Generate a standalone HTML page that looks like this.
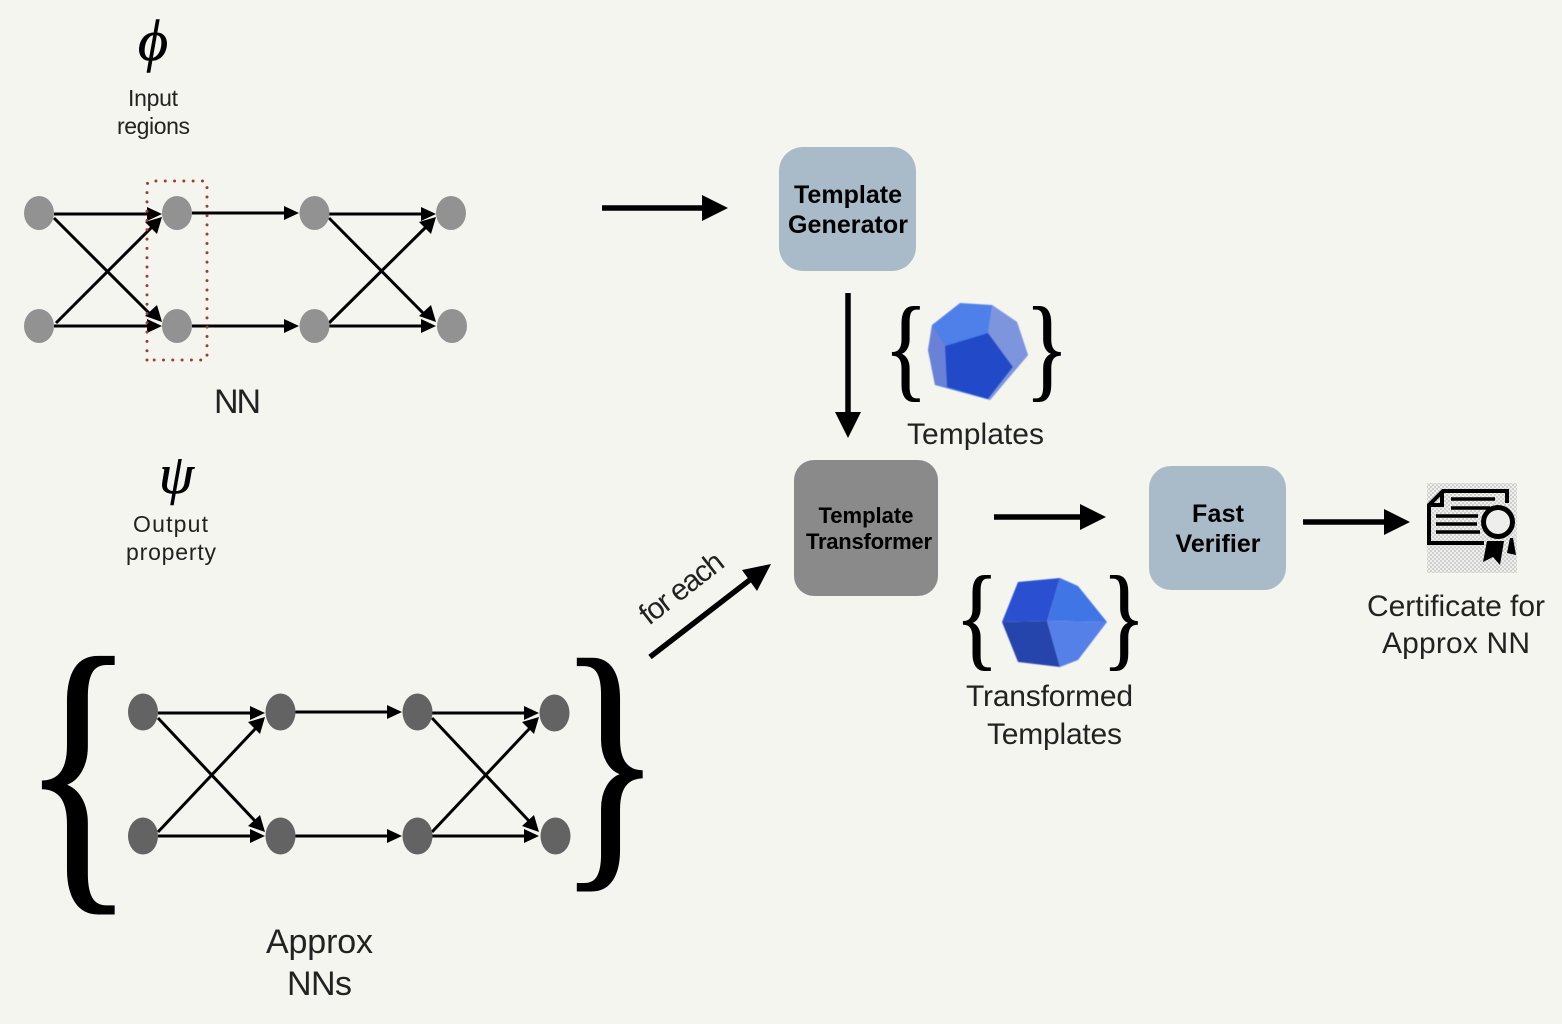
<!DOCTYPE html>
<html><head><meta charset="utf-8"><style>
html,body{margin:0;padding:0;background:#f5f5f0;width:1562px;height:1024px;overflow:hidden}
svg{display:block}
text{font-family:"Liberation Sans",sans-serif;fill:#222}
.s{font-family:"Liberation Serif",serif;fill:#000}
.b{font-weight:700;fill:#000;text-anchor:middle}
.l{stroke:#000;stroke-width:3;fill:none}
.t{stroke:#000;stroke-width:5.5;fill:none}
.g1{fill:#929292}.g2{fill:#636363}
</style></head><body>
<svg width="1562" height="1024" viewBox="0 0 1562 1024" xmlns="http://www.w3.org/2000/svg">
<defs>
<pattern id="ck" width="4" height="4" patternUnits="userSpaceOnUse"><rect width="4" height="4" fill="#efefed"/><rect width="2" height="2" fill="#cfcfcd"/><rect x="2" y="2" width="2" height="2" fill="#cfcfcd"/></pattern>
<filter id="bl" x="-5%" y="-5%" width="110%" height="110%"><feGaussianBlur stdDeviation="0.6"/></filter>
</defs>
<rect width="1562" height="1024" fill="#f5f5f0"/>

<text class="s" x="138" y="60" font-size="58" font-style="italic" stroke="#000" stroke-width=".6">ϕ</text>
<text x="128" y="106" font-size="23" textLength="50">Input</text>
<text x="117" y="134" font-size="23" textLength="73">regions</text>

<g>
<g class="l">
<path d="M54 214H148M54 326H148M54 218L152 316M56 323L153 226"/>
<path d="M192 213H285M192 326H285M329 214H422M329 326H422M329 218L426 316M329 323L427 226"/>
</g>
<path d="M162 214L147 207V221ZM162 326L147 319V333ZM162 322L157 305L145 316ZM162 217L145 222L157 234Z"/>
<path d="M299 213L284 206V220ZM299 326L284 319V333ZM436 214L421 207V221ZM436 326L421 319V333ZM436 322L431 305L419 316ZM436 217L419 222L431 234Z"/>
<ellipse class="g1" cx="39" cy="213" rx="15" ry="17"/><ellipse class="g1" cx="39" cy="326" rx="15" ry="17"/>
<ellipse class="g1" cx="177" cy="213" rx="15" ry="17"/><ellipse class="g1" cx="177" cy="326" rx="15" ry="17"/>
<ellipse class="g1" cx="314.500" cy="213" rx="15" ry="17"/><ellipse class="g1" cx="314.500" cy="326" rx="15" ry="17"/>
<ellipse class="g1" cx="451" cy="213" rx="15" ry="17"/><ellipse class="g1" cx="452" cy="326" rx="15" ry="17"/>
</g>
<path d="M147 360V186Q147 181 152 181H202Q207 181 207 186V355Q207 360 202 360H150" fill="none" stroke="#a03c30" stroke-width="3" stroke-linecap="round" stroke-dasharray="0 9.3"/>
<text x="214" y="413" font-size="34" textLength="47">NN</text>

<text class="s" x="159" y="493" font-size="56" font-style="italic" stroke="#000" stroke-width=".6">ψ</text>
<text x="133" y="532" font-size="23" textLength="75">Output</text>
<text x="126" y="560" font-size="23" textLength="90">property</text>

<text class="s" transform="translate(21 872) scale(.77 1)" font-size="310" stroke="#000" stroke-width="2">{</text>
<text class="s" transform="translate(558 853) scale(.77 1)" font-size="280" stroke="#000" stroke-width="2">}</text>

<g>
<g class="l">
<path d="M158 713H251M158 836H251M158 718L255 821M158 832L256 728"/>
<path d="M295 712H388M295 836H388M432 713H525M432 836H525M432 718L529 821M432 832L530 728"/>
</g>
<path d="M265 713L250 706V720ZM265 836L250 829V843ZM265 832L260 815L248 826ZM265 717L248 722L260 734Z"/>
<path d="M402 712L387 705V719ZM402 836L387 829V843ZM539 713L524 706V720ZM539 836L524 829V843ZM539 832L534 815L522 826ZM539 717L522 722L534 734Z"/>
<ellipse class="g2" cx="143" cy="712" rx="15" ry="18.500"/><ellipse class="g2" cx="143" cy="836" rx="15" ry="18.500"/>
<ellipse class="g2" cx="280.500" cy="712" rx="15" ry="18.500"/><ellipse class="g2" cx="280.500" cy="836" rx="15" ry="18.500"/>
<ellipse class="g2" cx="417.500" cy="712" rx="15" ry="18.500"/><ellipse class="g2" cx="417.500" cy="836" rx="15" ry="18.500"/>
<ellipse class="g2" cx="554.500" cy="713" rx="15" ry="18.500"/><ellipse class="g2" cx="555.500" cy="836" rx="15" ry="18.500"/>
</g>
<text x="266" y="953" font-size="34" textLength="107">Approx</text>
<text x="287" y="995" font-size="34" textLength="65">NNs</text>

<path class="t" d="M602 208H706"/><path d="M728 208L702 195V221Z"/>
<rect x="779" y="147" width="137" height="124" rx="24" fill="#a9bbc8"/>
<text class="b" x="848" y="203" font-size="25" textLength="108">Template</text>
<text class="b" x="848" y="233" font-size="25" textLength="120">Generator</text>

<path class="t" d="M848 293V414"/><path d="M848 438L835 412H861Z"/>

<text class="s" transform="translate(884 386) scale(.80 1)" font-size="114" stroke="#000" stroke-width=".9">{</text>
<text class="s" transform="translate(1025 386) scale(.80 1)" font-size="114" stroke="#000" stroke-width=".9">}</text>
<g filter="url(#bl)">
<polygon points="960,303 992,305 1017,322 1028,355 990,400 935,385 928,350 932,325" fill="#4f80ea"/>
<polygon points="992,305 1017,322 1028,355 1013,367 988,333" fill="#7d95dd"/>
<polygon points="932,325 928,350 935,385 947,387 945,346" fill="#6a81d8"/>
<polygon points="945,346 988,333 1013,367 988,399 947,387" fill="#2349c8"/>
<polygon points="1013,367 1028,355 990,400 988,399" fill="#7d95dd"/>
</g>
<text x="907" y="444" font-size="30" textLength="137">Templates</text>

<rect x="794" y="460" width="144" height="136" rx="20" fill="#8a8a8a"/>
<text class="b" x="866" y="523" font-size="22" textLength="95">Template</text>
<text class="b" x="869" y="549" font-size="22" textLength="126">Transformer</text>

<path class="t" d="M994 517H1082"/><path d="M1106 517L1080 504V530Z"/>
<rect x="1149" y="466" width="137" height="124" rx="22" fill="#a9bbc8"/>
<text class="b" x="1218" y="522" font-size="25" textLength="52">Fast</text>
<text class="b" x="1218" y="552" font-size="25" textLength="85">Verifier</text>

<path class="t" d="M1303 522H1386"/><path d="M1410 522L1384 509V535Z"/>

<text class="s" transform="translate(955 655) scale(.80 1)" font-size="114" stroke="#000" stroke-width=".9">{</text>
<text class="s" transform="translate(1102 655) scale(.80 1)" font-size="114" stroke="#000" stroke-width=".9">}</text>
<g filter="url(#bl)">
<polygon points="1018,582 1060,578 1047,621 1002,622" fill="#2a4fd0"/>
<polygon points="1060,578 1078,586 1107,622 1047,621" fill="#3f74e6"/>
<polygon points="1047,621 1107,622 1078,660 1060,667" fill="#5580e8"/>
<polygon points="1002,622 1047,621 1060,667 1018,662" fill="#2844ac"/>
</g>
<text x="966" y="706" font-size="30" textLength="167">Transformed</text>
<text x="987" y="744" font-size="30" textLength="135">Templates</text>

<rect x="1427" y="483" width="90" height="90" fill="url(#ck)"/>
<g fill="none" stroke="#000" stroke-width="4">
<path d="M1484 543H1429V505L1443 491H1507V503"/>
<path d="M1429 505H1442V491"/>
<path d="M1451 499H1495M1451 508H1490M1436 516H1478M1436 524H1477M1436 532H1480" stroke-width="3.500"/>
</g>
<path d="M1487 541L1483 562L1493 557L1500 565L1504 541Z"/>
<path d="M1510 538L1507 553L1516 555L1513 538Z"/>
<circle cx="1498" cy="522" r="17" fill="#000"/>
<circle cx="1498" cy="522" r="12" fill="#eeeeec"/>
<text x="1367" y="616" font-size="30" textLength="178">Certificate for</text>
<text x="1382" y="653" font-size="30" textLength="148">Approx NN</text>

<path class="t" d="M650 657L751 579"/><path d="M771 564L742 570L757 591Z"/>
<text transform="translate(649 626) rotate(-38)" font-size="30" textLength="98">for each</text>
</svg>
</body></html>
